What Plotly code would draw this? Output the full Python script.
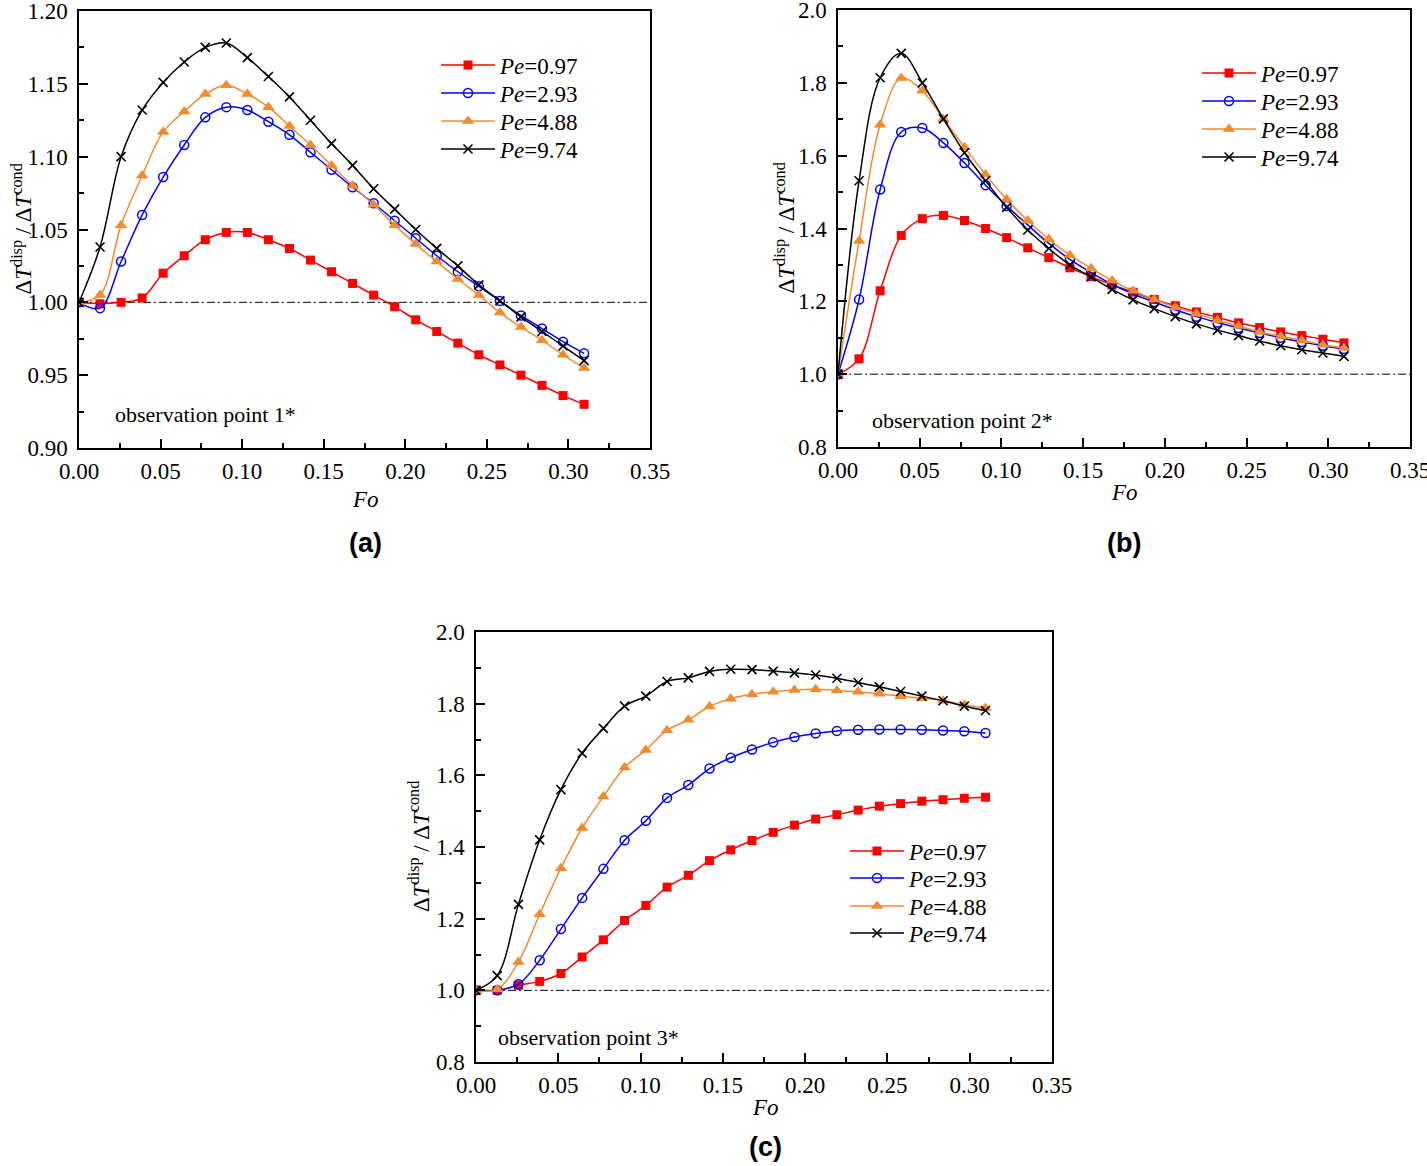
import plotly.graph_objects as go

W, H = 1427, 1166

fo = [0.0000, 0.0129, 0.0258, 0.0387, 0.0516, 0.0645, 0.0774, 0.0903, 0.1032,
      0.1161, 0.1290, 0.1419, 0.1548, 0.1677, 0.1806, 0.1935, 0.2064, 0.2193,
      0.2322, 0.2451, 0.2580, 0.2709, 0.2838, 0.2967, 0.3096]

series_names = ["<i>Pe</i>=0.97", "<i>Pe</i>=2.93", "<i>Pe</i>=4.88", "<i>Pe</i>=9.74"]

# observation point 1*
a_pe097 = [1.000, 0.999, 1.000, 1.003, 1.020, 1.032, 1.043, 1.048, 1.048, 1.043, 1.037, 1.029,
           1.021, 1.013, 1.005, 0.997, 0.988, 0.980, 0.972, 0.964, 0.957, 0.950, 0.943, 0.936, 0.930]
a_pe293 = [1.000, 0.996, 1.028, 1.060, 1.086, 1.108, 1.127, 1.134, 1.132, 1.124, 1.115, 1.103,
           1.091, 1.079, 1.068, 1.056, 1.044, 1.032, 1.021, 1.011, 1.001, 0.991, 0.982, 0.973, 0.965]
a_pe488 = [1.000, 1.005, 1.053, 1.087, 1.117, 1.131, 1.143, 1.149, 1.143, 1.134, 1.121, 1.108,
           1.094, 1.080, 1.067, 1.053, 1.040, 1.028, 1.016, 1.005, 0.993, 0.983, 0.974, 0.964, 0.955]
a_pe974 = [1.000, 1.038, 1.100, 1.132, 1.151, 1.165, 1.175, 1.178, 1.168, 1.155, 1.141, 1.125,
           1.109, 1.094, 1.078, 1.064, 1.050, 1.037, 1.025, 1.012, 1.001, 0.990, 0.980, 0.970, 0.960]

# observation point 2*
b_pe097 = [1.000, 1.042, 1.229, 1.381, 1.427, 1.436, 1.422, 1.400, 1.375, 1.347, 1.320, 1.292,
           1.268, 1.245, 1.225, 1.205, 1.188, 1.171, 1.156, 1.141, 1.128, 1.116, 1.106, 1.096, 1.086]
b_pe293 = [1.000, 1.205, 1.507, 1.665, 1.676, 1.635, 1.580, 1.519, 1.462, 1.410, 1.359, 1.315,
           1.279, 1.247, 1.220, 1.198, 1.177, 1.158, 1.142, 1.127, 1.113, 1.100, 1.088, 1.078, 1.069]
b_pe488 = [1.000, 1.366, 1.685, 1.813, 1.778, 1.701, 1.623, 1.548, 1.480, 1.422, 1.371, 1.327,
           1.291, 1.257, 1.229, 1.205, 1.184, 1.166, 1.148, 1.132, 1.116, 1.104, 1.093, 1.081, 1.072]
b_pe974 = [1.000, 1.531, 1.814, 1.881, 1.800, 1.701, 1.608, 1.531, 1.458, 1.396, 1.345, 1.300,
           1.267, 1.233, 1.204, 1.180, 1.158, 1.138, 1.121, 1.106, 1.091, 1.078, 1.067, 1.058, 1.049]

# observation point 3*
c_pe097 = [1.000, 1.000, 1.014, 1.025, 1.047, 1.093, 1.141, 1.195, 1.237, 1.288, 1.321, 1.362,
           1.392, 1.418, 1.441, 1.461, 1.478, 1.490, 1.503, 1.514, 1.521, 1.528, 1.532, 1.536, 1.539]
c_pe293 = [1.000, 1.000, 1.017, 1.084, 1.171, 1.258, 1.339, 1.419, 1.473, 1.537, 1.573, 1.619,
           1.649, 1.672, 1.692, 1.707, 1.717, 1.724, 1.727, 1.728, 1.728, 1.727, 1.725, 1.723, 1.718]
c_pe488 = [1.000, 1.003, 1.079, 1.212, 1.341, 1.453, 1.541, 1.622, 1.671, 1.726, 1.755, 1.792,
           1.814, 1.826, 1.833, 1.838, 1.840, 1.837, 1.833, 1.828, 1.821, 1.815, 1.808, 1.797, 1.787]
c_pe974 = [1.000, 1.041, 1.240, 1.420, 1.560, 1.662, 1.731, 1.793, 1.821, 1.862, 1.872, 1.890,
           1.896, 1.895, 1.891, 1.886, 1.880, 1.871, 1.859, 1.847, 1.834, 1.821, 1.808, 1.793, 1.781]

panels = [
    dict(series=[a_pe097, a_pe293, a_pe488, a_pe974], yrange=[0.90, 1.20], dtick=0.05, ydec=".2f",
         box=(79, 650, 11, 448), leg_x=436, leg_rows=[65, 93, 121, 149],
         obs="observation point 1*", obs_xy=(113, 415),
         fo_xy=(365, 500), lab="(a)", lab_xy=(365, 543), ytitle_x=22),
    dict(series=[b_pe097, b_pe293, b_pe488, b_pe974], yrange=[0.8, 2.0], dtick=0.2, ydec=".1f",
         box=(838, 1410, 10, 447), leg_x=1197, leg_rows=[73, 101, 129, 157],
         obs="observation point 2*", obs_xy=(870, 420),
         fo_xy=(1124, 492), lab="(b)", lab_xy=(1124, 543), ytitle_x=785),
    dict(series=[c_pe097, c_pe293, c_pe488, c_pe974], yrange=[0.8, 2.0], dtick=0.2, ydec=".1f",
         box=(476, 1052, 632, 1062), leg_x=845, leg_rows=[851, 878, 906, 933],
         obs="observation point 3*", obs_xy=(496, 1037),
         fo_xy=(765, 1107), lab="(c)", lab_xy=(765, 1147), ytitle_x=420),
]

colors = ["#ff0000", "#0000ff", "#f28a30", "#000000"]
markers = [
    dict(symbol="square", size=9, color="#ff0000"),
    dict(symbol="circle-open", size=9, color="#0000ff", line=dict(width=1.5, color="#0000ff")),
    dict(symbol="triangle-up", size=11, color="#f28a30"),
    dict(symbol="x-thin-open", size=9, color="#000000", line=dict(width=1.6, color="#000000")),
]

SERIF = "Liberation Serif"


def px(x):
    return x / W


def py(y):
    return 1 - y / H


fig = go.Figure()
annotations = []
shapes = []
layout_axes = {}
leg_count = 0

for k, p in enumerate(panels):
    n = "" if k == 0 else str(k + 1)
    xa, ya = "x" + n, "y" + n
    for s, vals in enumerate(p["series"]):
        leg_count += 1
        leg = "legend" if leg_count == 1 else "legend" + str(leg_count)
        fig.add_trace(go.Scatter(
            x=fo, y=vals, xaxis=xa, yaxis=ya, mode="lines+markers", name=series_names[s],
            line=dict(color=colors[s], width=1.5, shape="spline", smoothing=1.0),
            marker=markers[s], legend=leg, showlegend=True,
        ))
        layout_axes[leg] = dict(
            x=px(p["leg_x"]), y=py(p["leg_rows"][s]), xanchor="left", yanchor="middle",
            bgcolor="rgba(0,0,0,0)", font=dict(family=SERIF, size=23, color="black"),
            itemwidth=54, borderwidth=0)
    x0, x1, y0, y1 = p["box"]
    common = dict(showline=True, linecolor="black", linewidth=1.5, mirror=True, showgrid=False,
                  zeroline=False, ticks="inside", ticklen=9, tickwidth=1.5, tickcolor="black",
                  automargin=False, ticklabeloverflow="allow",
                  tickfont=dict(family=SERIF, size=23, color="black"))
    layout_axes["xaxis" + n] = dict(
        common, domain=[px(x0), px(x1)], range=[0, 0.35], dtick=0.05, tick0=0, tickformat=".2f",
        anchor=ya, ticklabelstandoff=2,
        minor=dict(ticks="inside", ticklen=5, tickwidth=1.5, tickcolor="black", dtick=0.025))
    layout_axes["yaxis" + n] = dict(
        common, domain=[py(y1), py(y0)], range=p["yrange"], dtick=p["dtick"], tick0=0,
        tickformat=p["ydec"], anchor=xa, ticklabelstandoff=5,
        minor=dict(ticks="inside", ticklen=5, tickwidth=1.5, tickcolor="black", dtick=p["dtick"] / 2))
    shapes.append(dict(type="line", xref=xa, yref=ya, x0=0, x1=0.35, y0=1, y1=1,
                       line=dict(color="black", width=1, dash="8px,3px,2px,3px"), layer="below"))
    ox, oy = p["obs_xy"]
    annotations.append(dict(text=p["obs"], x=px(ox), y=py(oy), xref="paper", yref="paper",
                            xanchor="left", yanchor="middle", showarrow=False,
                            font=dict(family=SERIF, size=22, color="black")))
    fx, fy = p["fo_xy"]
    annotations.append(dict(text="<i>Fo</i>", x=px(fx), y=py(fy), xref="paper", yref="paper",
                            xanchor="center", yanchor="middle", showarrow=False,
                            font=dict(family=SERIF, size=23, color="black")))
    bx, by = p["lab_xy"]
    annotations.append(dict(text="<b>" + p["lab"] + "</b>", x=px(bx), y=py(by), xref="paper",
                            yref="paper", xanchor="center", yanchor="middle", showarrow=False,
                            font=dict(family="Liberation Sans", size=27, color="black")))
    annotations.append(dict(text="Δ<i>T</i><sup>disp</sup> / Δ<i>T</i><sup>cond</sup>",
                            x=px(p["ytitle_x"]), y=py((y0 + y1) / 2), xref="paper", yref="paper",
                            xanchor="center", yanchor="middle", textangle=-90, showarrow=False,
                            font=dict(family=SERIF, size=23, color="black")))

fig.update_layout(
    width=W, height=H, margin=dict(l=0, r=0, t=0, b=0, pad=0, autoexpand=False),
    paper_bgcolor="white", plot_bgcolor="white",
    annotations=annotations, shapes=shapes, **layout_axes,
)

fig.write_html("out.html", config={"displayModeBar": False},
               post_script="document.body.style.margin='0px';")
